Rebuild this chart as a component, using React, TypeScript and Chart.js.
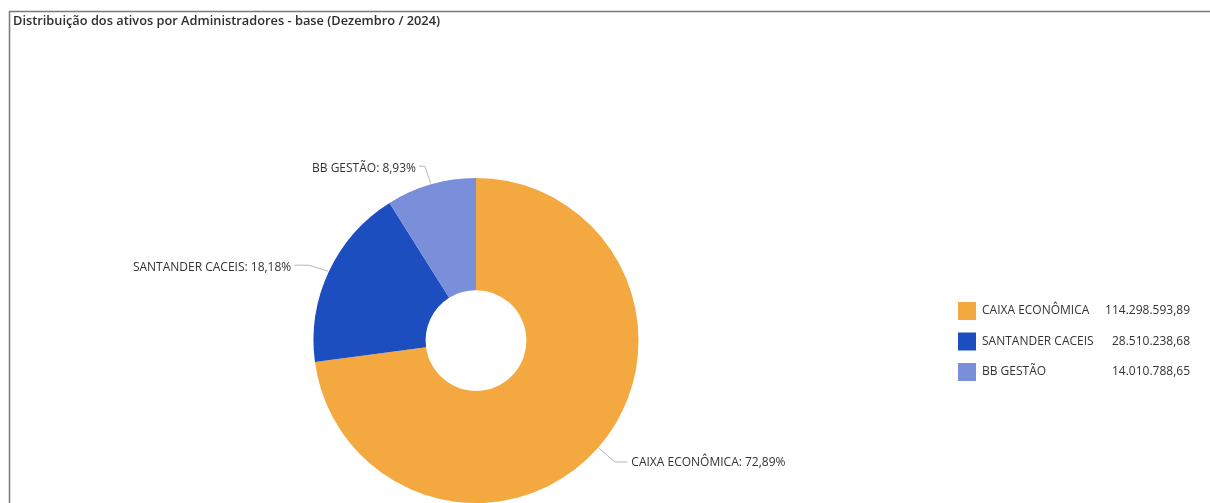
import React, { useEffect, useRef } from "react";
import { Chart, registerables } from "chart.js";

Chart.register(...registerables);

const TITLE = "Distribuição dos ativos por Administradores - base (Dezembro / 2024)";
const categories = ["CAIXA ECONÔMICA", "SANTANDER CACEIS", "BB GESTÃO"];
const values = [114298593.89, 28510238.68, 14010788.65];
const colors = ["#F4A940", "#1D4EBF", "#7A8FDA"];

const FONT = "'Open Sans', 'Noto Sans', sans-serif";
const TEXT = "#333333";

function fmtBR(v: number): string {
  const [i, d] = v.toFixed(2).split(".");
  return i.replace(/\B(?=(\d{3})+(?!\d))/g, ".") + "," + d;
}
function fmtPct(p: number): string {
  return p.toFixed(2).replace(".", ",") + "%";
}

const framePlugin = {
  id: "frameTitle",
  beforeDraw(chart: any) {
    const ctx = chart.ctx;
    ctx.save();
    ctx.fillStyle = "#ffffff";
    ctx.fillRect(0, 0, chart.width, chart.height);
    ctx.strokeStyle = "#7a7a7a";
    ctx.lineWidth = 1.5;
    ctx.beginPath();
    ctx.moveTo(9.5, chart.height + 5);
    ctx.lineTo(9.5, 11.5);
    ctx.lineTo(chart.width + 5, 11.5);
    ctx.stroke();
    ctx.fillStyle = "#2e2e2e";
    ctx.font = `600 12.8px ${FONT}`;
    ctx.textBaseline = "middle";
    ctx.textAlign = "left";
    ctx.fillText(TITLE, 13, 21);
    ctx.restore();
  },
};

const labelPlugin = {
  id: "outLabels",
  afterDraw(chart: any) {
    const ctx = chart.ctx;
    const meta = chart.getDatasetMeta(0);
    const total = values.reduce((a, b) => a + b, 0);
    ctx.save();
    ctx.font = `12px ${FONT}`;
    ctx.textBaseline = "middle";
    meta.data.forEach((arc: any, i: number) => {
      const { x, y, startAngle, endAngle, outerRadius } = arc.getProps(
        ["x", "y", "startAngle", "endAngle", "outerRadius"],
        true
      );
      const mid = (startAngle + endAngle) / 2;
      const cx = Math.cos(mid);
      const cy = Math.sin(mid);
      const right = cx >= 0;
      const p0x = x + cx * (outerRadius + 1);
      const p0y = y + cy * (outerRadius + 1);
      const p1x = x + cx * (outerRadius + 22);
      const p1y = y + cy * (outerRadius + 22) + (right ? 0 : 3);
      const hlen = 2 + 14 * Math.abs(cx);
      const p2x = p1x + (right ? hlen : -hlen);
      ctx.strokeStyle = "#b8b8b8";
      ctx.lineWidth = 1;
      ctx.beginPath();
      ctx.moveTo(p0x, p0y);
      ctx.lineTo(p1x, p1y);
      ctx.lineTo(p2x, p1y);
      ctx.stroke();
      ctx.fillStyle = TEXT;
      ctx.textAlign = right ? "left" : "right";
      const label = `${categories[i]}: ${fmtPct((values[i] / total) * 100)}`;
      ctx.fillText(label, p2x + (right ? 4 : -3), p1y + (right ? 1 : 2));
    });
    ctx.restore();
  },
};

const legendPlugin = {
  id: "valueLegend",
  afterDraw(chart: any) {
    const ctx = chart.ctx;
    const x0 = 958;
    const y0 = 311;
    const rowH = 30.5;
    const box = 18;
    const valRight = 1190;
    ctx.save();
    ctx.font = `12px ${FONT}`;
    ctx.textBaseline = "middle";
    categories.forEach((c, i) => {
      const yc = y0 + i * rowH;
      ctx.fillStyle = colors[i];
      ctx.fillRect(x0, yc - box / 2, box, box);
      ctx.fillStyle = TEXT;
      ctx.textAlign = "left";
      ctx.fillText(c, x0 + box + 6, yc);
      ctx.textAlign = "right";
      ctx.fillText(fmtBR(values[i]), valRight, yc);
    });
    ctx.restore();
  },
};

export default function App() {
  const ref = useRef<HTMLCanvasElement | null>(null);
  useEffect(() => {
    document.body.style.margin = "0";
    const canvas = ref.current;
    if (!canvas) return;
    const chart = new Chart(canvas, {
      type: "doughnut",
      data: {
        labels: categories,
        datasets: [
          {
            data: values,
            backgroundColor: colors,
            borderWidth: 0,
          },
        ],
      },
      options: {
        responsive: false,
        animation: false,
        cutout: "31%",
        layout: { padding: { left: 313, right: 571, top: 178, bottom: 0 } },
        plugins: {
          legend: { display: false },
          tooltip: { enabled: false },
          title: { display: false },
        },
      },
      plugins: [framePlugin, labelPlugin, legendPlugin],
    });
    return () => chart.destroy();
  }, []);
  return (
    <div style={{ position: "fixed", left: 0, top: 0, width: 1210, height: 503 }}>
      <canvas ref={ref} width={1210} height={503} style={{ width: 1210, height: 503 }} />
    </div>
  );
}
